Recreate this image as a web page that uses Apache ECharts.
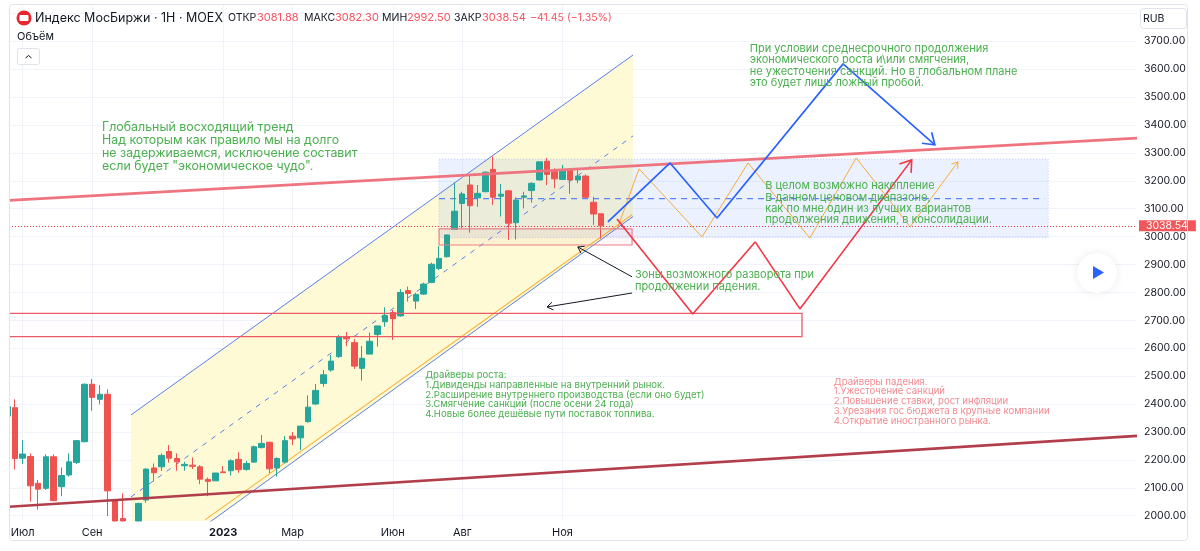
<!DOCTYPE html>
<html>
<head>
<meta charset="utf-8">
<style>
  html, body { margin: 0; padding: 0; background: #fff; }
  #chart { width: 1200px; height: 551px; }
</style>
<script src="https://cdn.jsdelivr.net/npm/echarts@6/dist/echarts.min.js"></script>
</head>
<body>
<div id="chart"></div>
<script>
// weekly candles, x is the number of the week on the chart
const weeks = Array.from({ length: 78 }, (_, i) => i)
const opens = [2357,2387,2206,2212,2116,2098,2211,2104,2146,2191,2265,2471,2417,2435,2054,1990,1960,1981,2056,2171,2175,2230,2205,2179,2181,2175,2130,2125,2157,2161,2202,2166,2192,2244,2263,2171,2192,2285,2279,2337,2400,2474,2522,2570,2642,2620,2528,2579,2649,2695,2728,2716,2807,2769,2794,2836,2886,2928,3026,3119,3185,3139,3161,3241,3145,3164,3050,3141,3165,3203,3270,3233,3205,3239,3203,3217,3123,3081.88]
const closes = [2391,2205,2221,2107,2095,2211,2054,2144,2193,2269,2471,2424,2435,2089,1981,1981,1930,2044,2167,2154,2216,2206,2193,2184,2177,2131,2123,2153,2154,2197,2165,2187,2247,2259,2168,2205,2269,2275,2321,2389,2449,2505,2554,2642,2634,2536,2564,2625,2680,2718,2706,2800,2796,2793,2830,2901,2922,3006,3091,3153,3111,3155,3231,3141,3152,3048,3131,3146,3191,3268,3223,3207,3239,3203,3217,3141,3081,3038.54]
const lows = [2340,2166,2185,2050,2022,2092,2052,2070,2140,2185,2263,2376,2399,1999,1981,1981,1920,1981,2046,2122,2160,2190,2161,2161,2167,2113,2070,2125,2154,2144,2154,2161,2190,2241,2152,2140,2187,2253,2235,2333,2397,2462,2516,2566,2608,2526,2484,2579,2606,2677,2630,2713,2767,2741,2791,2833,2880,2925,3026,3030,3014,3107,3159,3113,3072,2988,2990,3101,3122,3201,3185,3173,3203,3153,3191,3137,3042,2992.5]
const highs = [2400,2417,2271,2223,2128,2220,2220,2173,2223,2271,2474,2490,2468,2453,2054,2080,1975,2046,2170,2187,2223,2253,2223,2193,2209,2181,2137,2153,2178,2202,2227,2197,2251,2289,2265,2209,2285,2300,2321,2431,2472,2522,2576,2648,2658,2633,2608,2656,2680,2747,2737,2812,2821,2799,2835,2907,2966,3008,3194,3161,3223,3185,3233,3287,3189,3167,3141,3161,3195,3268,3282,3245,3257,3245,3239,3223,3143,3082.3]

const lastClose = 3038.54
const priceTicks = [2000,2100,2200,2300,2400,2500,2600,2700,2800,2900,3000,3100,3200,3300,3400,3500,3600,3700,3800]
const priceLabels = [2000,2100,2200,2300,2400,2500,2600,2700,2800,2900,3000,3100,3200,3300,3400,3500,3600,3700]
const monthWeeks = [2, 11, 28, 37, 50, 59, 72]
const monthNames = ["Июл", "Сен", "2023", "Мар", "Июн", "Авг", "Ноя"]

// drawings on the chart, [week, price]
const channelTop = [[16.04, 2361], [81.16, 3651]]
const channelMid = [[16.04, 2067], [81.16, 3361]]
const channelBottom = [[16.04, 1773], [81.16, 3072]]
const supportOrange = [[25.64, 1985], [81.03, 3078]]
const resistanceTrend = [[0.22, 3130], [146.52, 3353]]
const supportTrend = [[0.22, 2032], [146.52, 2286]]
const rangeBox = [[56, 3278], [135, 2996]]
const rangeMid = [[56, 3136], [134.5, 3136]]
const smallZone = [[56, 3028], [81.03, 2970]]
const bigZone = [[-2, 2725], [103.07, 2642]]
const bluePath = [[77.9, 3053], [85.96, 3264], [92.05, 3067], [108.4, 3619], [120.3, 3329]]
const orangePath = [[79.2, 3035], [81.94, 3243], [90.1, 2999], [96.07, 3264], [104.1, 2995], [110.1, 3282], [117.1, 3035], [123.3, 3268]]
const redPath = [[79.08, 3063], [88.9, 2723], [97, 2981], [102.8, 2741], [117.3, 3275]]
const arrowUpper = [[81.03, 2856], [74, 2963]]
const arrowLower = [[81.03, 2798], [70, 2748]]

const noteTrend = 'Глобальный восходящий тренд\nНад которым как правило мы на долго\nне задерживаемся, исключение составит\nесли будет "экономическое чудо".'
const noteBreak = 'При условии среднесрочного продолжения\nэкономического роста и\\или смягчения,\nне ужесточения санкций. Но в глобальном плане\nэто будет лишь ложный пробой.'
const noteRange = 'В целом возможно накопление\nВ данном ценовом диапазоне,\nкак по мне один из лучших вариантов\nпродолжения движения, в консолидации.'
const noteZone = 'Зоны возможного разворота при\nпродолжении падения.'
const noteGrowth = 'Драйверы роста:\n1.Дивиденды направленные на внутренний рынок.\n2.Расширение внутреннего производства (если оно будет)\n3.Смягчение санкций (после осени 24 года)\n4.Новые более дешёвые пути поставок топлива.'
const noteFall = 'Драйверы падения.\n1.Ужесточение санкций\n2.Повышение ставки, рост инфляции\n3.Урезания гос бюджета в крупные компании\n4.Открытие иностранного рынка.'

// legend strip over the chart
const quoteKeys = ["ОТКР", "МАКС", "МИН", "ЗАКР"]
const quoteValues = ["3081.88", "3082.30", "2992.50", "3038.54"]
const quoteKeyX = [228, 304, 382, 454]
const quoteValueX = [257, 335, 407, 482]

const GREEN = "#4caf50"
const QUOTE_RED = "#f7525f"
const FONT = "Inter, 'Noto Sans', sans-serif"

function lineSeries(points, color, width, type, z) {
  return {
    type: "line",
    data: points,
    showSymbol: false,
    silent: true,
    animation: false,
    z: z,
    lineStyle: { color: color, width: width, type: type || "solid" },
  }
}

// custom series drawn once, clipped to the plot
function drawSeries(z, draw) {
  return {
    type: "custom",
    data: [[0, 3000]],
    clip: true,
    silent: true,
    animation: false,
    z: z,
    renderItem: (params, api) => draw(api),
  }
}

function boxSeries(corners, fill, stroke, width, z, dash) {
  return drawSeries(z, (api) => {
    const a = api.coord(corners[0])
    const b = api.coord(corners[1])
    return {
      type: "rect",
      shape: { x: a[0], y: a[1], width: b[0] - a[0], height: b[1] - a[1] },
      style: { fill: fill, stroke: stroke, lineWidth: width, lineDash: dash },
    }
  })
}

// open arrow head on the last segment of a path
function headSeries(points, color, width, size, z) {
  return drawSeries(z, (api) => {
    const from = api.coord(points[points.length - 2])
    const to = api.coord(points[points.length - 1])
    const angle = Math.atan2(from[1] - to[1], from[0] - to[0])
    const wing = (d) => [to[0] + size * Math.cos(angle + d), to[1] + size * Math.sin(angle + d)]
    return {
      type: "polyline",
      shape: { points: [wing(0.6), to, wing(-0.6)] },
      style: { fill: null, stroke: color, lineWidth: width },
    }
  })
}

function noteSeries(anchor, text, color, size, lineHeight) {
  return drawSeries(60, (api) => {
    const p = api.coord(anchor)
    return {
      type: "text",
      x: p[0],
      y: p[1],
      style: {
        text: text,
        fill: color,
        font: size + "px " + FONT,
        lineHeight: lineHeight,
        align: "left",
        verticalAlign: "top",
      },
    }
  })
}

function headerText(x, text, color, size) {
  return {
    type: "text",
    z: 100,
    x: x,
    y: 18,
    style: { text: text, font: size + "px " + FONT, fill: color, verticalAlign: "middle" },
  }
}

const chart = echarts.init(document.getElementById("chart"), null, { renderer: "canvas" })

const option = {
  animation: false,
  backgroundColor: "#fff",
  textStyle: { fontFamily: FONT },
  grid: { left: 9, right: 63, top: 5, bottom: 30 },
  xAxis: {
    type: "value",
    min: 0.22,
    max: 146.52,
    axisLine: { show: false },
    axisTick: { show: false, customValues: monthWeeks },
    axisLabel: {
      customValues: monthWeeks,
      color: "#131722",
      fontSize: 11,
      margin: 6,
      formatter: (v) => {
        const name = monthNames[monthWeeks.indexOf(v)]
        return name === "2023" ? "{year|2023}" : name
      },
      rich: { year: { fontWeight: "bold", fontSize: 11, color: "#131722" } },
    },
    splitLine: { show: true, lineStyle: { color: "#f0f3fa", width: 1 } },
  },
  yAxis: {
    type: "value",
    position: "right",
    min: 1981,
    max: 3830,
    axisLine: { show: false },
    axisTick: { show: false, customValues: priceTicks },
    axisLabel: {
      customValues: priceLabels,
      color: "#131722",
      fontSize: 10.5,
      margin: 7,
      formatter: (v) => v.toFixed(2),
    },
    splitLine: { show: true, lineStyle: { color: "#f0f3fa", width: 1 } },
  },
  series: [
    drawSeries(2, (api) => ({
      type: "polygon",
      shape: {
        points: [channelTop[0], channelTop[1], channelBottom[1], channelBottom[0]].map((p) => api.coord(p)),
      },
      style: { fill: "#fefad6" },
    })),
    boxSeries(rangeBox, "rgba(41,98,255,0.09)", "rgba(41,98,255,0.25)", 1, 3, [1, 2]),
    lineSeries(rangeMid, "#5b83f5", 1.2, [6, 5], 4),
    lineSeries(channelTop, "#5b7fe8", 1, "solid", 4),
    lineSeries(channelMid, "#5b7fe8", 1, [5, 6], 4),
    lineSeries(channelBottom, "#5b7fe8", 1, "solid", 4),
    lineSeries(supportOrange, "#f9b542", 1.2, "solid", 5),
    {
      type: "candlestick",
      z: 10,
      barWidth: 6,
      silent: true,
      animation: false,
      data: weeks.map((w, i) => [w, opens[i], closes[i], lows[i], highs[i]]),
      itemStyle: {
        color: "#26a69a",
        color0: "#ef5350",
        borderColor: "#26a69a",
        borderColor0: "#ef5350",
        borderWidth: 1,
      },
      markLine: {
        silent: true,
        symbol: "none",
        animation: false,
        lineStyle: { color: "#f23645", width: 1, type: [1, 2] },
        label: {
          position: "end",
          formatter: lastClose.toFixed(2),
          color: "#fff",
          fontSize: 10.5,
          backgroundColor: "#f0565a",
          padding: [0, 8, 0, 7],
          offset: [-3, 0],
        },
        data: [{ yAxis: lastClose }],
      },
    },
    lineSeries(resistanceTrend, "#ee7480", 2.6, "solid", 20),
    lineSeries(supportTrend, "#b23e4c", 2.6, "solid", 20),
    boxSeries(smallZone, "rgba(242,54,69,0.04)", "#e8808a", 1.2, 21),
    boxSeries(bigZone, "rgba(242,54,69,0.01)", "#ec5a68", 1.3, 21),
    lineSeries(orangePath, "#f7ab3c", 1, "solid", 30),
    headSeries(orangePath, "#f7ab3c", 1, 7, 30),
    lineSeries(bluePath, "#2962ff", 1.7, "solid", 31),
    headSeries(bluePath, "#2962ff", 1.7, 13, 31),
    lineSeries(redPath, "#f23645", 1.6, "solid", 31),
    headSeries(redPath, "#f23645", 1.6, 13, 31),
    lineSeries(arrowUpper, "#131722", 1, "solid", 32),
    headSeries(arrowUpper, "#131722", 1, 7, 32),
    lineSeries(arrowLower, "#131722", 1, "solid", 32),
    headSeries(arrowLower, "#131722", 1, 7, 32),
    noteSeries([12.28, 3416], noteTrend, GREEN, 12.4, 13),
    noteSeries([96.3, 3693], noteBreak, GREEN, 11, 11.3),
    noteSeries([98.3, 3201], noteRange, GREEN, 11, 11.3),
    noteSeries([81.4, 2886], noteZone, GREEN, 11, 12),
    noteSeries([54.2, 2520], noteGrowth, GREEN, 9.6, 9.7),
    noteSeries([107.2, 2498], noteFall, "#f28b91", 9.6, 9.9),
  ],
  graphic: [
    // the first candle is cut by the left edge of the pane
    { type: "rect", z: 90, shape: { x: 0, y: 0, width: 9, height: 551 }, style: { fill: "#fff" } },
    {
      type: "rect",
      z: 100,
      shape: { x: 9.5, y: 4.5, width: 1178, height: 536, r: 3 },
      style: { fill: null, stroke: "#e0e3eb", lineWidth: 1 },
    },
    { type: "circle", z: 100, shape: { cx: 24, cy: 18, r: 7.5 }, style: { fill: "#e8252d" } },
    { type: "rect", z: 101, shape: { x: 19.5, y: 15, width: 9, height: 6, r: 1 }, style: { fill: "#fff" } },
    headerText(35, "Индекс МосБиржи · 1Н · MOEX", "#131722", 12.5),
    ...quoteKeys.map((k, i) => headerText(quoteKeyX[i], k, "#131722", 10.5)),
    ...quoteValues.map((v, i) => headerText(quoteValueX[i], v, QUOTE_RED, 11)),
    headerText(530, "−41.45 (−1.35%)", QUOTE_RED, 10.5),
    {
      type: "text",
      z: 100,
      x: 17,
      y: 37,
      style: { text: "Объём", font: "11px " + FONT, fill: "#131722", verticalAlign: "middle" },
    },
    {
      type: "rect",
      z: 100,
      shape: { x: 17.5, y: 48.5, width: 22, height: 16, r: 2 },
      style: { fill: "#fff", stroke: "#dfe2ea", lineWidth: 1 },
    },
    {
      type: "polyline",
      z: 101,
      shape: { points: [[25.5, 58], [28.5, 55.5], [31.5, 58]] },
      style: { fill: null, stroke: "#131722", lineWidth: 1 },
    },
    {
      type: "rect",
      z: 100,
      shape: { x: 1140.5, y: 8.5, width: 46, height: 20, r: 3 },
      style: { fill: "#fff", stroke: "#e0e3eb", lineWidth: 1 },
    },
    {
      type: "text",
      z: 101,
      x: 1143,
      y: 18.5,
      style: { text: "RUB", font: "10.5px " + FONT, fill: "#131722", verticalAlign: "middle" },
    },
    {
      type: "circle",
      z: 100,
      shape: { cx: 1097, cy: 273, r: 20 },
      style: { fill: "#fff", shadowBlur: 10, shadowColor: "rgba(0,0,0,0.08)" },
    },
    {
      type: "polygon",
      z: 101,
      shape: { points: [[1093, 266], [1104, 272.5], [1093, 279]] },
      style: { fill: "#2962ff" },
    },
  ],
}

chart.setOption(option)
</script>
</body>
</html>
